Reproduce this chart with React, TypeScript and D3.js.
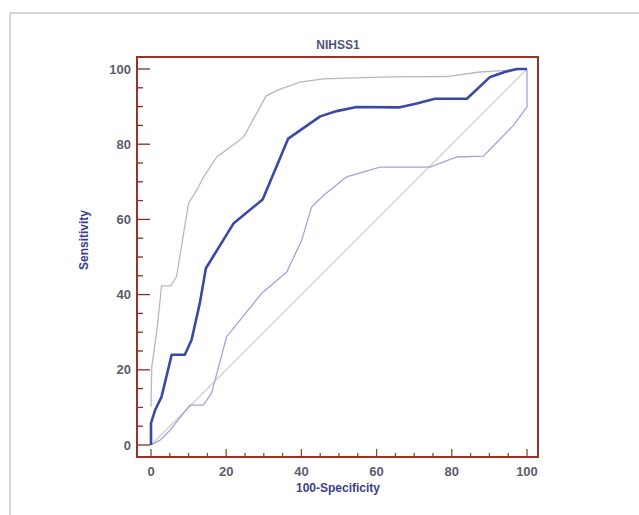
import * as d3 from "d3"

// ROC curve (100-Specificity, Sensitivity)
const rocX = [0, 0, 1.1, 2.8, 5.5, 9, 10.8, 13, 14.6, 22, 29.7, 36.5, 45, 49.4, 54.7, 66.2, 70.7, 75.5, 84, 90.2, 94.1, 97.3, 100]
const rocY = [0, 5.8, 9.3, 12.8, 24, 24, 28, 37.8, 47, 59, 65.3, 81.5, 87.4, 88.8, 89.9, 89.8, 90.8, 92.1, 92.1, 97.9, 99.2, 100, 100]

// upper confidence bound
const upX = [0, 0.2, 1.6, 2.8, 5.3, 6.8, 7.8, 10, 12, 14, 17.5, 22.9, 24.7, 30.6, 33.5, 39.6, 45.8, 63.6, 78.6, 87.5, 100]
const upY = [10.2, 20.8, 30.6, 42.3, 42.3, 44.8, 51, 64.3, 67.5, 71.3, 76.6, 80.6, 82, 92.8, 94.3, 96.5, 97.4, 97.9, 98, 99.2, 100]

// lower confidence bound
const loX = [0, 2.4, 5.1, 10.4, 13.9, 16.1, 20.1, 21.9, 29.4, 36.1, 40.1, 42.7, 46, 52, 60.9, 74.2, 81.3, 88.4, 92, 96.4, 100, 100]
const loY = [0, 1.3, 4, 10.6, 10.6, 13.7, 28.8, 31, 40.3, 46, 54.5, 63.3, 66.5, 71.3, 73.9, 73.9, 76.6, 76.8, 80.5, 85, 89.9, 100]

const diagX = [0, 100]
const diagY = [0, 100]

const tickValues = d3.range(0, 101, 5)
const labelValues = [0, 20, 40, 60, 80, 100]

const W = 639
const H = 515
const box = { left: 137, top: 57, right: 538, bottom: 457 }

export default function App() {
    const x = d3.scaleLinear().domain([0, 100]).range([151, 527])
    const y = d3.scaleLinear().domain([0, 100]).range([445, 69])

    const line = (xs: number[], ys: number[]) =>
        d3.line<number>()
            .x((_, i) => x(xs[i]))
            .y((_, i) => y(ys[i]))(xs) || ""

    const font = "Arial, 'Liberation Sans', sans-serif"

    return (
        <svg width={W} height={H} style={{ position: "absolute", left: 0, top: 0, background: "#fff" }}>
            <rect x={10} y={13} width={700} height={600} fill="#fff" stroke="#c8c8c8" strokeWidth={1.5} />

            <text x={338} y={49} textAnchor="middle" fontFamily={font} fontSize={12} fontWeight="bold" fill="#50547a">
                NIHSS1
            </text>

            <path d={line(diagX, diagY)} fill="none" stroke="#d2d2c6" strokeWidth={1.3} />
            <path d={line(upX, upY)} fill="none" stroke="#b6b8c9" strokeWidth={1.3} />
            <path d={line(loX, loY)} fill="none" stroke="#a2a6d8" strokeWidth={1.3} />
            <path d={line(rocX, rocY)} fill="none" stroke="#3c48a6" strokeWidth={2.6} strokeLinejoin="round" />

            {/* left ticks */}
            {tickValues.map(t => (
                <line key={"ly" + t} x1={box.left} x2={box.left + (t % 20 === 0 ? 13 : 6)} y1={y(t)} y2={y(t)}
                    stroke="#8a2c20" strokeWidth={1.3} />
            ))}
            {/* bottom ticks */}
            {tickValues.map(t => (
                <line key={"bx" + t} x1={x(t)} x2={x(t)} y1={box.bottom} y2={box.bottom - (t % 20 === 0 ? 8 : 4)}
                    stroke="#6e5a2c" strokeWidth={1.3} />
            ))}

            <rect x={box.left} y={box.top} width={box.right - box.left} height={box.bottom - box.top}
                fill="none" stroke="#9a3324" strokeWidth={2} />

            {labelValues.map(t => (
                <text key={"yl" + t} x={131} y={y(t)} dy="0.35em" textAnchor="end" fontFamily={font} fontSize={13}
                    fontWeight="bold" fill="#5c5c6e">{t}</text>
            ))}
            {labelValues.map(t => (
                <text key={"xl" + t} x={x(t)} y={476} textAnchor="middle" fontFamily={font} fontSize={13}
                    fontWeight="bold" fill="#5c5c6e">{t}</text>
            ))}

            <text x={338} y={492} textAnchor="middle" fontFamily={font} fontSize={12} fontWeight="bold" fill="#3d418c">
                100-Specificity
            </text>
            <text transform="translate(88,240) rotate(-90)" textAnchor="middle" fontFamily={font} fontSize={12}
                fontWeight="bold" fill="#3d418c">
                Sensitivity
            </text>
        </svg>
    )
}
